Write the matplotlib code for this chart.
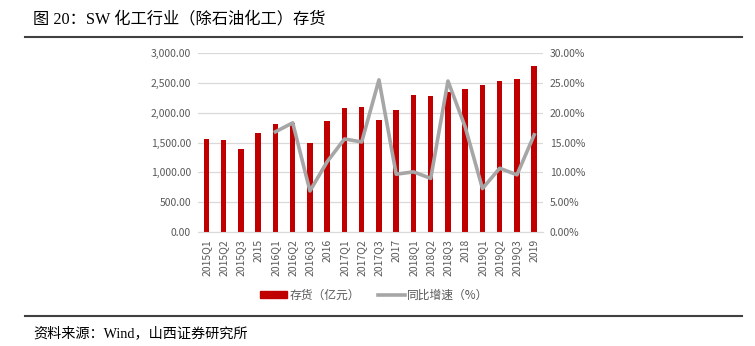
import numpy as np
import matplotlib.pyplot as plt
from matplotlib.lines import Line2D

plt.rcParams['font.family'] = ['Noto Sans CJK SC', 'DejaVu Sans']
serif_cjk = ['Liberation Serif', 'Noto Sans CJK SC']

# === Data ===
periods = ['2015Q1', '2015Q2', '2015Q3', '2015', '2016Q1', '2016Q2', '2016Q3', '2016',
           '2017Q1', '2017Q2', '2017Q3', '2017', '2018Q1', '2018Q2', '2018Q3', '2018',
           '2019Q1', '2019Q2', '2019Q3', '2019']
inventory = [1553, 1542, 1397, 1659, 1803, 1826, 1497, 1865,
             2076, 2098, 1876, 2037, 2293, 2282, 2343, 2393,
             2460, 2527, 2571, 2783]
# year-over-year growth (%), available from 2016Q1 onward
growth = [None, None, None, None, 16.8, 18.3, 6.9, 11.8,
          15.6, 15.1, 25.5, 9.7, 10.1, 9.0, 25.3, 17.6,
          7.3, 10.7, 9.6, 16.3]

bar_color = '#C00000'
line_color = '#A6A6A6'
tick_color = '#595959'

fig = plt.figure(figsize=(7.55, 3.46), dpi=100)
ax = fig.add_axes([0.262, 0.329, 0.457, 0.518])
x = np.arange(len(periods))

ax.bar(x, inventory, width=0.32, color=bar_color, zorder=2)
ax.set_xlim(-0.5, len(periods) - 0.5)
ax.set_ylim(0, 3000)
ax.set_yticks(np.arange(0, 3001, 500))
ax.set_yticklabels([f'{v:,.2f}' for v in np.arange(0, 3001, 500)])
ax.set_xticks(x)
ax.set_xticklabels(periods, rotation=90)
ax.grid(axis='y', color='#D9D9D9', linewidth=0.9, zorder=0)
for s in ['top', 'right', 'left']:
    ax.spines[s].set_visible(False)
ax.spines['bottom'].set_color('#D9D9D9')
ax.tick_params(axis='both', length=0, colors=tick_color, labelsize=7.5, pad=5)

ax2 = ax.twinx()
gx = [i for i, g in enumerate(growth) if g is not None]
gy = [g for g in growth if g is not None]
ax2.plot(gx, gy, color=line_color, linewidth=2.6, zorder=3)
ax2.set_ylim(0, 30)
ax2.set_yticks(np.arange(0, 31, 5))
ax2.set_yticklabels([f'{v:.2f}%' for v in np.arange(0, 31, 5)])
for s in ['top', 'right', 'left', 'bottom']:
    ax2.spines[s].set_visible(False)
ax2.tick_params(axis='y', length=0, colors=tick_color, labelsize=7.5, pad=5)

# legend below the axes
handles = [plt.Rectangle((0, 0), 1, 1, color=bar_color),
           Line2D([0], [0], color=line_color, linewidth=2.6)]
fig.legend(handles, ['存货（亿元）', '同比增速（%）'], loc='center',
           bbox_to_anchor=(0.496, 0.147), ncol=2, frameon=False,
           fontsize=8.5, labelcolor=tick_color, handlelength=2.3,
           handleheight=0.6, columnspacing=1.5, handletextpad=0.2)

# title, rules and source note
fig.text(0.044, 0.945, '图 20：SW 化工行业（除石油化工）存货', fontsize=11.7,
         va='center', ha='left', color='black', family=serif_cjk)
fig.add_artist(Line2D([0.033, 0.983], [0.894, 0.894], color='#404040', linewidth=1.5))
fig.add_artist(Line2D([0.033, 0.983], [0.087, 0.087], color='#404040', linewidth=1.5))
fig.text(0.044, 0.036, '资料来源：Wind，山西证券研究所', fontsize=10.2,
         va='center', ha='left', color='black', family=serif_cjk)

fig.savefig('out.png', dpi=100)
